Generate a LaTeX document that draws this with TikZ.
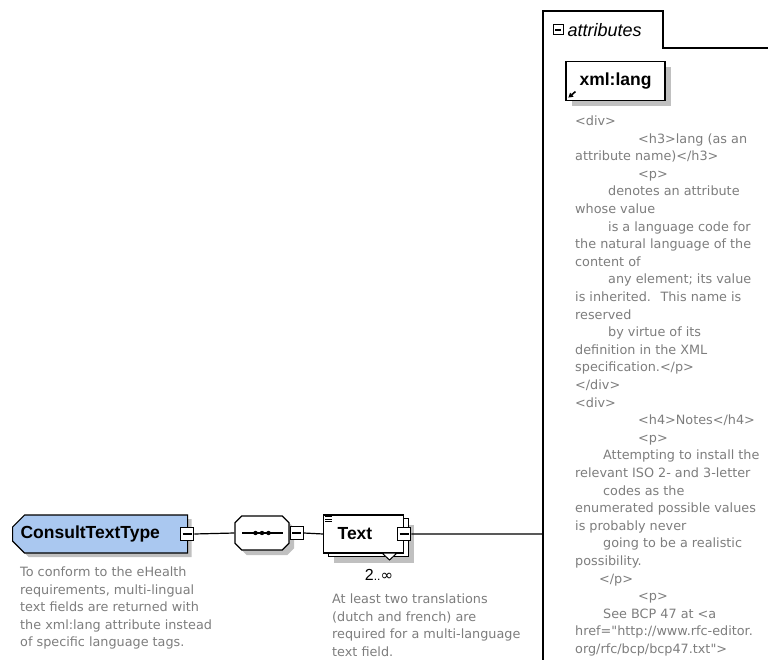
\documentclass[tikz,border=0pt]{standalone}
\usepackage{fontspec}
\setmainfont{Liberation Sans}
\newfontfamily\docfont{DejaVu Sans}
\usetikzlibrary{shapes.misc,shadows,arrows.meta,positioning}

\definecolor{typeblue}{RGB}{170,200,240}
\definecolor{docgray}{RGB}{125,125,125}
\definecolor{shadegray}{RGB}{192,192,192}

\tikzset{
	bold label/.style={font=\fontsize{17.5}{20}\selectfont\bfseries},
	doc/.style={anchor=north west,align=left,inner sep=0pt,text=docgray,font=\docfont\fontsize{12.8}{17.5}\selectfont},
	shadowed/.style={drop shadow={shadow xshift=#1,shadow yshift=-#1,fill=shadegray,opacity=1}},
	ctype/.style={chamfered rectangle,chamfered rectangle corners={north west,south west},chamfered rectangle xsep=6pt,chamfered rectangle ysep=6pt,draw,line width=1.2pt,fill=typeblue,bold label,shadowed=4pt},
	seqbox/.style={chamfered rectangle,chamfered rectangle xsep=8pt,chamfered rectangle ysep=8pt,draw,line width=1.2pt,fill=white,minimum width=54pt,minimum height=34pt,shadowed=5pt},
	elem/.style={rectangle,draw,line width=1.2pt,fill=white,bold label,minimum height=38pt},
	minusbox/.style={draw,fill=white,line width=1.2pt,minimum size=13pt,inner sep=0pt,path picture={\draw[line width=1.2pt] ([xshift=2pt]path picture bounding box.west) -- ([xshift=-2pt]path picture bounding box.east);}}
}

\begin{document}
\begin{tikzpicture}[x=1pt,y=-1pt]
	\useasboundingbox (0,0) rectangle (768,660);

	\draw[line width=1.2pt] (543,660) -- (543,11) -- (663,11) -- (663,48) -- (768,48);
	\node[minusbox,minimum size=10pt,line width=1pt] (AM) at (558,30) {};
	\node[right=4pt of AM,inner sep=0pt,font=\fontsize{18}{20}\selectfont\itshape] (AT) {attributes};

	\node[elem,minimum width=99pt,minimum height=39pt,shadowed=6pt] (XL) at (615.5,81) {xml:lang};
	\draw[-{Triangle[length=4.5pt,width=5pt]},line width=1.6pt] ([shift={(10pt,9.5pt)}]XL.south west) -- ([shift={(3pt,3.5pt)}]XL.south west);
	\node[doc,font=\docfont\fontsize{12.8}{17.6}\selectfont] (XD) at (575,115.5) {<div>\\
\hspace*{63pt}<h3>lang (as an\\
attribute name)</h3>\\
\hspace*{63pt}<p>\\
\hspace*{33pt}denotes an attribute\\
whose value\\
\hspace*{33pt}is a language code for\\
the natural language of the\\
content of\\
\hspace*{33pt}any element; its value\\
is inherited.~ This name is\\
reserved\\
\hspace*{33pt}by virtue of its\\
definition in the XML\\
specification.</p>\\
</div>\\
<div>\\
\hspace*{63pt}<h4>Notes</h4>\\
\hspace*{63pt}<p>\\
\hspace*{28pt}Attempting to install the\\
relevant ISO 2- and 3-letter\\
\hspace*{28pt}codes as the\\
enumerated possible values\\
is probably never\\
\hspace*{28pt}going to be a realistic\\
possibility.\\
\hspace*{24pt}</p>\\
\hspace*{63pt}<p>\\
\hspace*{28pt}See BCP 47 at <a\\
href="http://www.rfc-editor.\\
org/rfc/bcp/bcp47.txt">};

	\node[ctype,anchor=west,minimum height=38pt,text width=159pt,align=left,inner xsep=2pt,inner ysep=0pt] (CT) at (12,534) {ConsultTextType};
	\node[minusbox] (CTm) at ([xshift=-1pt]CT.east) {};
	\node[doc] (CTd) at (20,567) {To conform to the eHealth\\
requirements, multi-lingual\\
text fields are returned with\\
the xml:lang attribute instead\\
of specific language tags.};

	\node[seqbox] (S) at (262,533) {};
	\draw[line width=1.2pt] ([xshift=8pt]S.west) -- ([xshift=-7pt]S.east);
	\foreach \d in {-6.5,0,6.5}
		\fill ([xshift=\d pt]S.center) circle (2.2pt);
	\node[minusbox,right=0pt of S] (Sm) {};

	\node[elem,shadowed=10pt,general shadow={shadow xshift=4.5pt,shadow yshift=-3.5pt,fill=white,draw=black,line width=1.2pt},anchor=west,minimum width=80pt,text width=52pt,align=left,inner xsep=14pt] (T) at (323,534) {Text};
	\foreach \k in {0,2.5,5}
		\draw[line width=0.8pt] ([shift={(2pt,{-(2+\k)*1pt})}]T.north west) -- ++(7,0);
	\node[minusbox] (Tm) at (T.east) {};
	\draw[line width=1pt,fill=white] (382,553) -- (397,553) -- (389.5,560) -- cycle;
	\node[inner sep=0pt] (TN) at (379,575) {{\fontsize{16}{18}\selectfont 2}{\fontsize{12}{14}\selectfont..}{\docfont\fontsize{15}{16}\selectfont ∞}};
	\node[doc] (Td) at (332,594) {At least two translations\\
(dutch and french) are\\
required for a multi-language\\
text field.};

	\coordinate (AB) at (543,534);
	\path [draw,line width=1.2pt]
		(CTm.east) -- (S.west)
		(Sm.east) -- (T.west)
		(Tm.east) -- (AB);
\end{tikzpicture}
\end{document}
